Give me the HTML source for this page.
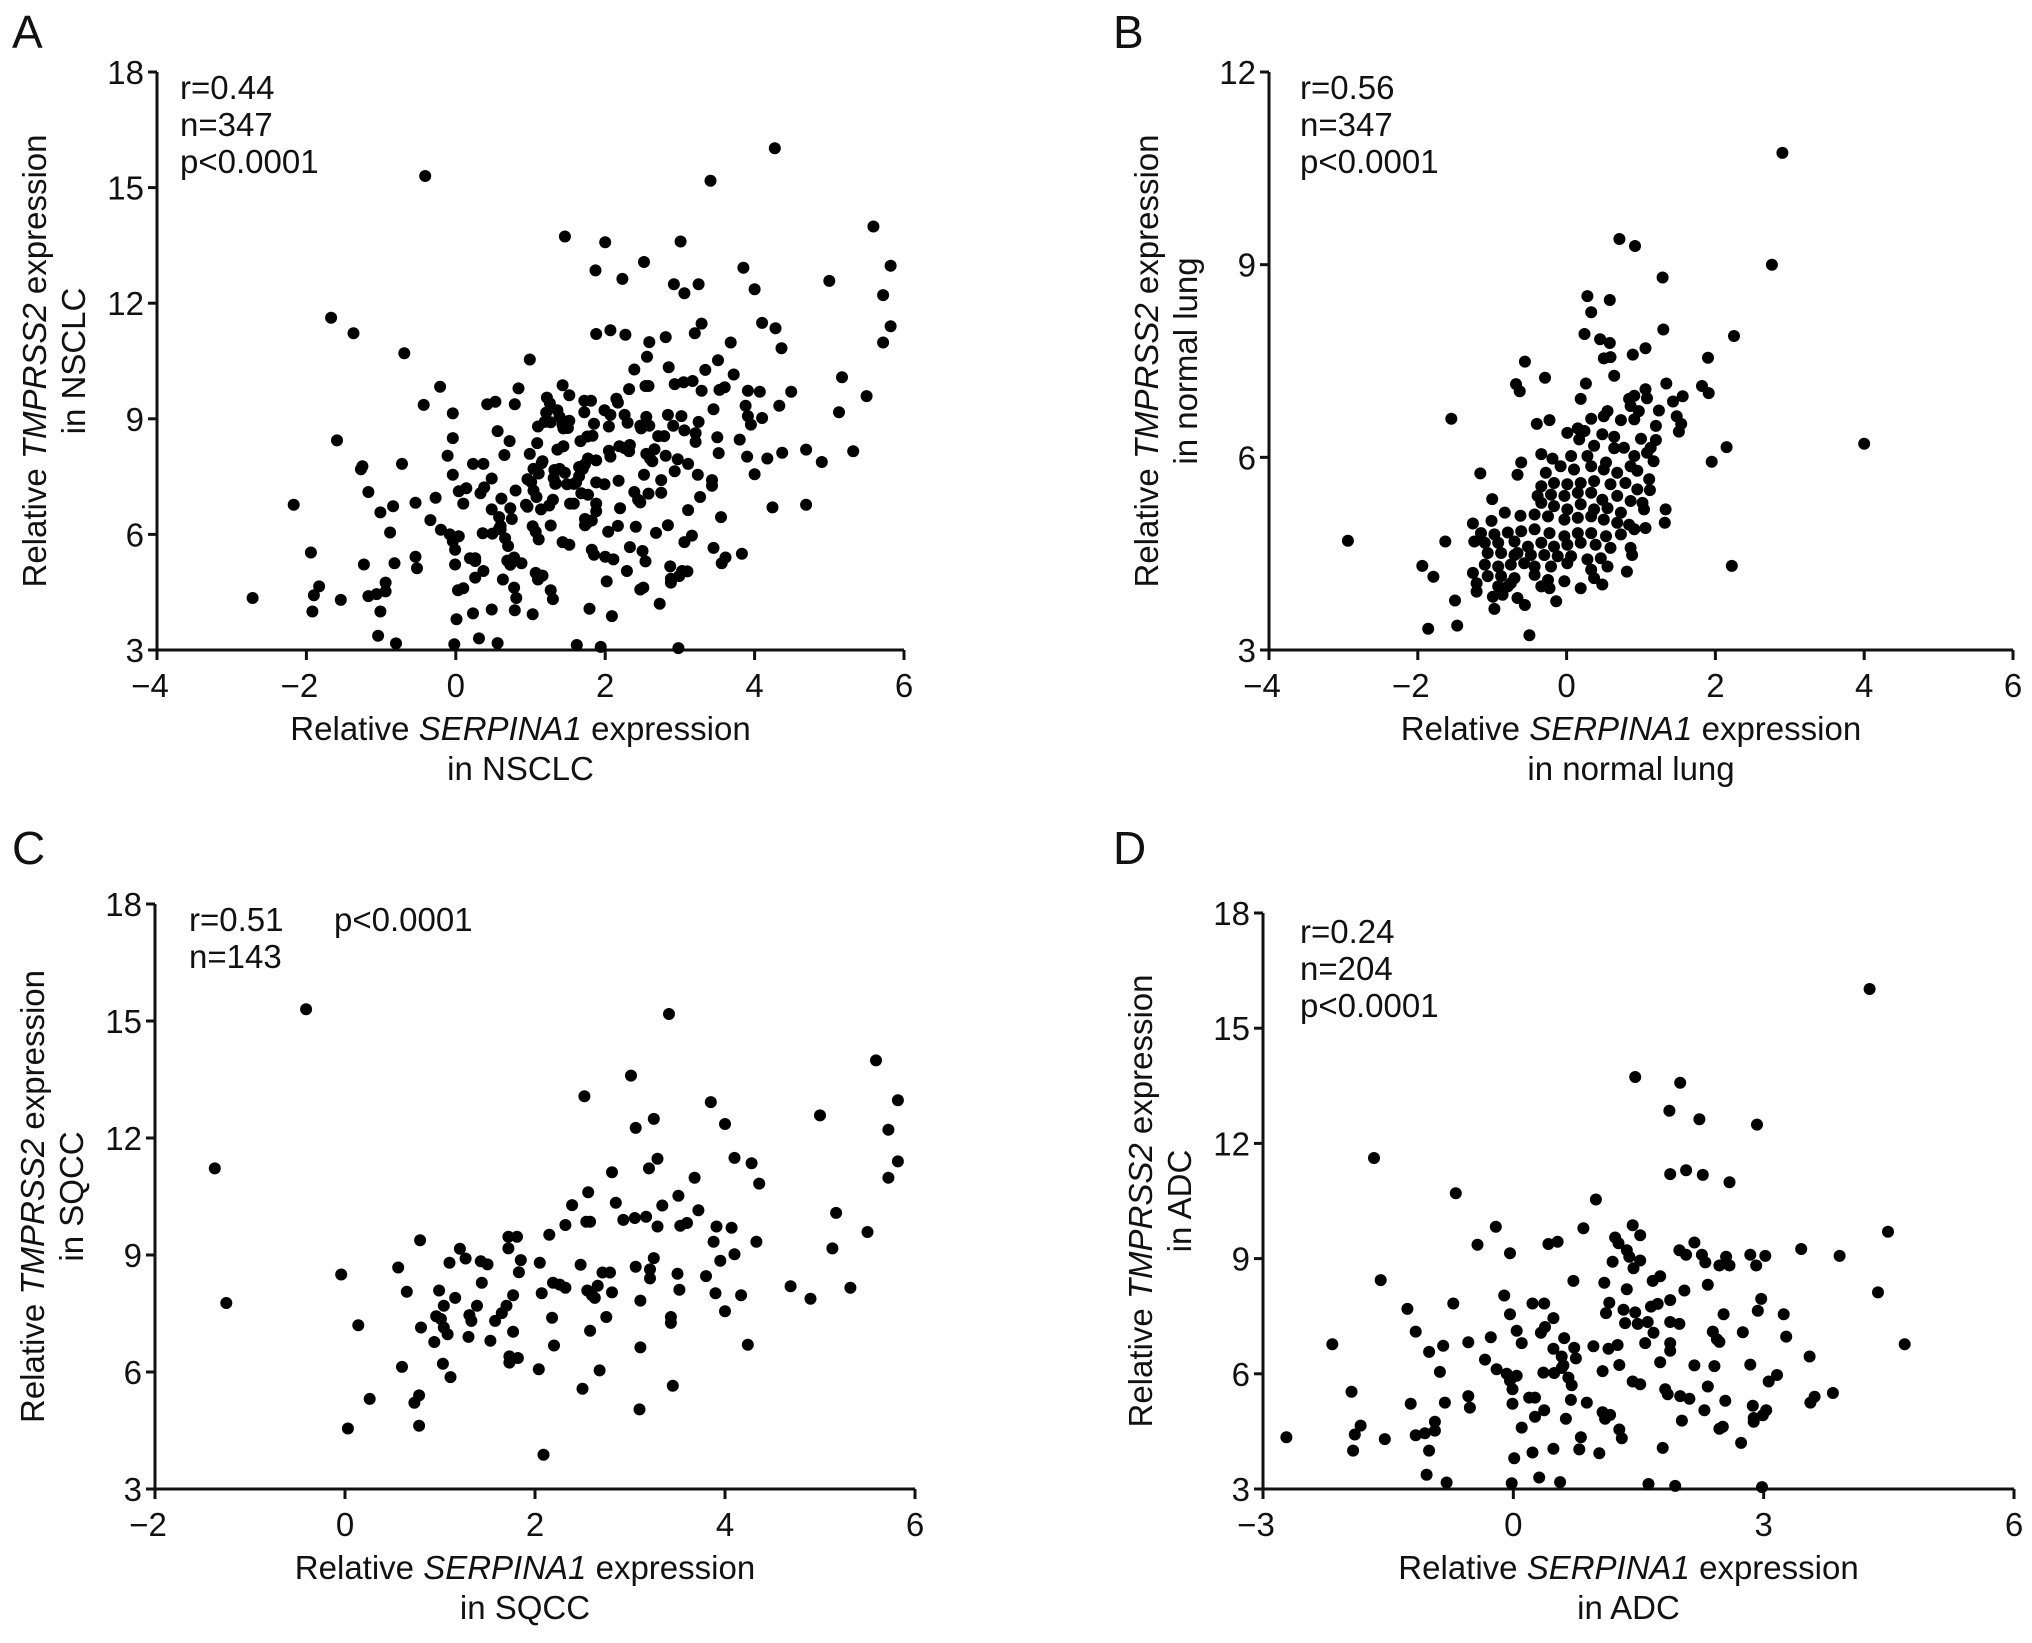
<!DOCTYPE html>
<html><head><meta charset="utf-8"><style>
html,body{margin:0;padding:0;background:#fff;}
svg{display:block;font-family:"Liberation Sans",Arial,sans-serif;}
</style></head><body>
<svg id="fig" width="2032" height="1643" viewBox="0 0 2032 1643" xmlns="http://www.w3.org/2000/svg"></svg>
<script>
// ---- data: SQCC (panel C) ----
const sqccX=[-1.37,-1.25,-0.41,3.41,5.59,3.01,2.52,3.85,5.82,3.25,5.00,3.06,4.00,5.72,3.29,3.20,4.10,4.28,5.82,5.72,4.36,2.81,3.68,2.56,2.39,2.85,3.34,3.51,3.72,5.17,2.32,2.54,2.58,2.93,3.05,3.17,3.29,3.53,3.60,3.91,4.07,5.50,2.15,0.79,1.72,1.81,1.72,3.88,4.33,5.13,1.21,1.27,1.10,1.43,1.50,1.85,2.05,2.48,3.06,3.25,3.95,4.10,0.56,-0.04,1.83,2.71,2.79,3.21,3.50,3.80,3.21,1.44,2.19,2.26,2.32,2.66,4.69,5.32,0.65,0.99,1.16,1.77,2.07,2.55,2.60,2.63,2.81,3.52,3.90,4.17,4.90,1.04,1.39,1.70,3.11,0.96,1.31,1.65,4.00,1.01,1.33,1.58,2.18,2.75,3.43,3.43,0.14,0.80,1.04,1.08,1.77,2.58,0.94,1.30,1.53,2.20,3.11,4.24,1.73,1.82,1.73,1.03,0.60,2.04,2.68,1.11,2.50,3.45,0.26,0.78,0.73,3.10,0.03,0.78,2.09];
const sqccY=[11.22,7.77,15.30,15.18,13.99,13.60,13.07,12.92,12.97,12.49,12.58,12.26,12.36,12.21,11.47,11.22,11.49,11.35,11.40,10.98,10.83,11.12,10.98,10.61,10.28,10.34,10.27,10.52,10.15,10.08,9.77,9.85,9.85,9.90,9.95,9.98,9.73,9.75,9.82,9.73,9.70,9.59,9.52,9.38,9.47,9.47,9.17,9.34,9.34,9.17,9.16,8.91,8.80,8.84,8.76,8.87,8.80,8.75,8.70,8.92,8.85,9.02,8.68,8.50,8.56,8.55,8.55,8.63,8.52,8.46,8.40,8.29,8.29,8.24,8.16,8.21,8.20,8.16,8.06,8.09,7.90,7.97,8.02,8.09,7.97,7.90,8.04,8.11,8.02,7.97,7.88,7.70,7.70,7.70,7.83,7.43,7.46,7.51,7.56,7.36,7.31,7.31,7.39,7.41,7.41,7.26,7.20,7.14,7.14,6.97,7.03,7.06,6.77,6.90,6.80,6.68,6.63,6.70,6.40,6.36,6.24,6.21,6.13,6.07,6.04,5.87,5.57,5.65,5.31,5.40,5.21,5.04,4.55,4.62,3.88];
// ---- data: ADC (panel D) ----
const adcX=[4.27,1.46,2.00,1.87,2.23,2.92,-1.67,1.88,2.07,2.27,2.59,-0.69,0.99,-0.21,0.84,1.43,1.52,4.49,-0.43,-0.04,0.42,0.53,1.22,1.26,1.36,1.39,1.19,1.52,1.44,1.99,2.07,2.17,2.26,2.30,2.47,2.55,2.59,2.84,2.91,3.02,3.45,3.91,-1.59,0.72,1.09,1.67,1.76,2.33,4.37,1.36,2.05,-0.11,-1.27,-0.72,0.23,0.37,1.15,1.88,2.97,1.65,1.73,1.32,1.11,1.46,-0.04,0.48,2.52,2.93,3.24,1.34,1.49,1.61,1.88,1.99,-1.17,0.04,0.33,0.38,1.68,2.39,2.75,3.27,-2.17,-0.54,-0.27,0.10,0.61,0.73,0.96,1.14,1.25,1.58,1.88,1.88,2.44,2.47,4.69,-1.01,-0.84,0.48,0.58,-0.34,0.75,3.55,1.76,0.60,1.27,2.17,2.41,2.84,-0.88,-0.20,-0.08,0.04,0.36,0.49,0.58,0.66,1.07,3.16,-0.04,0.70,1.43,1.52,3.06,-0.01,-1.94,1.82,1.85,2.00,2.11,2.33,3.83,-0.54,0.19,0.26,3.61,0.69,0.88,-1.23,-0.82,-0.01,2.54,3.56,-0.52,2.87,0.37,1.07,1.16,2.29,3.03,2.99,0.26,0.63,1.10,2.02,2.88,2.88,-1.83,-0.94,0.10,2.47,2.51,-1.90,-1.17,-1.06,-0.94,1.27,1.30,-2.72,-1.54,0.81,2.73,-1.92,-1.01,0.48,0.79,1.03,1.79,0.23,0.01,-1.04,0.31,-0.80,-0.02,0.56,1.62,1.94,2.98];
const adcY=[16.02,13.73,13.58,12.85,12.63,12.49,11.62,11.20,11.30,11.18,10.99,10.70,10.54,9.83,9.79,9.87,9.61,9.70,9.36,9.14,9.38,9.44,9.55,9.40,9.22,9.05,8.92,8.95,8.75,9.22,9.10,9.42,9.10,8.90,8.82,9.05,8.82,9.10,8.82,9.07,9.25,9.07,8.44,8.42,8.37,8.42,8.54,8.32,8.12,8.20,8.17,8.04,7.69,7.83,7.83,7.83,7.85,7.92,7.95,7.75,7.82,7.67,7.58,7.60,7.55,7.45,7.55,7.64,7.55,7.32,7.30,7.35,7.35,7.30,7.10,7.12,7.07,7.22,7.07,7.10,7.08,6.97,6.77,6.82,6.95,6.80,6.93,6.68,6.72,6.65,6.75,6.80,6.80,6.60,6.90,6.83,6.77,6.57,6.73,6.65,6.45,6.37,6.40,6.45,6.30,6.22,6.23,6.22,6.20,6.24,6.05,6.12,6.00,5.95,6.03,6.02,6.15,5.90,6.07,5.97,5.82,5.70,5.80,5.73,5.80,5.60,5.53,5.60,5.47,5.42,5.35,5.67,5.50,5.42,5.38,5.38,5.40,5.32,5.25,5.22,5.25,5.22,5.30,5.25,5.12,5.17,5.05,5.00,4.93,5.05,5.05,4.92,4.88,4.83,4.83,4.78,4.85,4.75,4.65,4.75,4.60,4.57,4.62,4.42,4.40,4.45,4.52,4.55,4.32,4.35,4.30,4.35,4.20,4.00,4.00,4.05,4.03,3.93,4.07,3.95,3.80,3.37,3.30,3.17,3.15,3.18,3.13,3.08,3.05];
// ---- data: normal lung (panel B) ----
const lungX=[0.71,0.92,2.76,1.29,0.28,0.58,0.33,1.30,2.25,0.24,0.45,0.58,1.06,0.89,0.50,0.59,1.90,-0.56,-0.29,0.64,-0.68,-0.63,0.26,1.34,1.82,1.91,0.19,1.56,1.43,-1.55,-0.40,-0.23,2.15,1.95,2.22,-2.94,-1.63,-1.94,-1.79,-1.50,-1.86,-1.47,-0.50,-1.16,-0.61,-0.66,-0.34,-1.00,1.33,1.32,0.81,0.19,-0.14,-0.97,-0.56,2.90,4.00,
0.84,0.91,1.06,1.08,0.86,0.97,1.24,0.55,0.33,0.50,0.73,0.91,1.20,1.48,1.54,1.51,0.01,0.15,0.24,0.48,0.64,1.00,1.20,0.17,0.37,0.64,0.77,1.13,1.17,0.91,-0.19,0.06,0.28,0.53,0.86,1.08,
-0.28,-0.08,0.10,0.33,0.50,0.68,0.95,1.11,1.12,-0.34,-0.17,0.01,0.19,0.37,0.59,0.79,0.95,-0.39,-0.21,-0.03,0.15,0.33,0.48,0.68,0.86,1.02,1.04,-0.34,-0.17,0.01,0.19,0.37,0.55,0.73,-0.83,-0.62,-1.26,-1.01,-0.43,-0.25,-0.03,0.15,0.33,0.50,0.68,0.84,1.06,0.91,
-1.15,-0.97,-0.79,-0.61,-0.43,-0.23,-0.03,0.15,0.33,0.53,0.73,-1.24,-1.10,-0.92,-0.70,-0.52,-0.34,-0.17,0.01,0.19,0.39,0.59,0.86,0.88,-1.06,-0.88,-0.70,-0.48,-0.30,-0.12,0.06,0.28,0.46,-1.10,-0.92,-0.75,-0.57,-0.21,0.01,0.55,0.33,-1.26,-1.06,-0.88,-0.70,-0.43,-0.25,-0.03,0.37,0.48,-1.21,-1.21,-0.92,-0.79,-0.34,-0.23,-0.99,-0.86,-0.66,-0.66,-0.43,-0.75];
const lungY=[9.40,9.29,9.00,8.80,8.51,8.45,8.26,7.99,7.89,7.92,7.84,7.78,7.70,7.60,7.54,7.56,7.55,7.49,7.24,7.27,7.14,7.03,7.15,7.15,7.11,7.00,6.91,6.95,6.87,6.60,6.52,6.58,6.16,5.93,4.31,4.70,4.69,4.31,4.14,3.77,3.33,3.38,3.23,5.75,5.92,5.73,6.05,5.35,5.19,4.98,4.22,3.96,3.76,3.64,3.70,10.74,6.21,
6.91,6.96,7.06,6.92,6.80,6.72,6.73,6.72,6.60,6.64,6.58,6.59,6.49,6.64,6.52,6.40,6.38,6.45,6.41,6.36,6.32,6.29,6.27,6.28,6.18,6.14,6.15,6.15,5.94,6.02,5.98,6.02,6.02,5.92,5.86,6.07,
5.76,5.86,5.81,5.86,5.81,5.76,5.79,5.66,5.49,5.55,5.60,5.58,5.60,5.63,5.58,5.60,5.50,5.40,5.42,5.40,5.45,5.45,5.34,5.40,5.32,5.29,5.19,5.29,5.24,5.19,5.27,5.19,5.21,5.14,5.14,5.09,4.97,5.01,5.11,5.08,5.03,5.06,5.08,5.03,4.98,4.95,4.90,4.88,
4.82,4.80,4.83,4.85,4.88,4.82,4.77,4.82,4.82,4.77,4.80,4.69,4.67,4.67,4.69,4.61,4.67,4.61,4.64,4.67,4.64,4.59,4.59,4.48,4.51,4.51,4.48,4.48,4.48,4.46,4.46,4.41,4.43,4.33,4.30,4.33,4.35,4.30,4.35,4.30,4.25,4.20,4.15,4.15,4.12,4.17,4.09,4.07,4.12,4.02,4.04,3.91,3.99,3.99,3.99,3.96,3.83,3.86,3.81,4.51,4.30,4.04];
// ---- tick labels ----
const ticksA_x=[-4,-2,0,2,4,6], ticksA_y=[3,6,9,12,15,18];
const ticksB_x=[-4,-2,0,2,4,6], ticksB_y=[3,6,9,12];
const ticksC_x=[-2,0,2,4,6], ticksC_y=[3,6,9,12,15,18];
const ticksD_x=[-3,0,3,6], ticksD_y=[3,6,9,12,15,18];
// NSCLC = SQCC + ADC
const nsclcX=sqccX.concat(adcX), nsclcY=sqccY.concat(adcY);

const NS="http://www.w3.org/2000/svg";
const svg=document.getElementById('fig');
const FS=33;
function el(tag,attrs,parent){const e=document.createElementNS(NS,tag);for(const k in attrs)e.setAttribute(k,attrs[k]);(parent||svg).appendChild(e);return e;}
function fmt(v){return v<0?'\u2212'+Math.abs(v):String(v);}

function panel(p){
  const g=el('g',{});
  
  
  const xmin=p.xt[0],xmax=p.xt[p.xt.length-1],ymin=p.yt[0],ymax=p.yt[p.yt.length-1];
  const sx=v=>p.L+(v-xmin)/(xmax-xmin)*(p.R-p.L);
  const sy=v=>p.B-(v-ymin)/(ymax-ymin)*(p.B-p.T);
  const lt=el('text',{x:p.lx,y:p.ly,'font-size':46,fill:'#111'},g);lt.textContent=p.letter;
  
  
  const ax=el('path',{d:`M${p.L},${p.T} V${p.B} H${p.R}`,stroke:'#111','stroke-width':3,fill:'none'},g);
  
  
  p.yt.forEach(v=>{
    const y=sy(v);
    el('line',{x1:p.L-9,x2:p.L,y1:y,y2:y,stroke:'#111','stroke-width':3},g);
    const t=el('text',{x:p.L-13,y:y+12,'font-size':FS,'text-anchor':'end',fill:'#111'},g);t.textContent=fmt(v);
    
    
  });
  p.xt.forEach(v=>{
    const x=sx(v);
    el('line',{x1:x,x2:x,y1:p.B,y2:p.B+10,stroke:'#111','stroke-width':3},g);
    const t=el('text',{x:x-(v<0?7:0),y:p.B+47,'font-size':FS,'text-anchor':'middle',fill:'#111'},g);t.textContent=fmt(v);
    
    
  });
  for(let i=0;i<p.X.length;i++){
    const c=el('circle',{cx:sx(p.X[i]).toFixed(1),cy:sy(p.Y[i]).toFixed(1),r:6,fill:'#000'},g);
    
    
  }
  p.stats.forEach((s,i)=>{
    const t=el('text',{x:s[1],y:s[2],'font-size':FS,fill:'#111'},g);t.textContent=s[0];
    
    
  });
  const cx=(p.L+p.R)/2-10;
  const xt=el('text',{x:cx,y:p.B+90,'font-size':FS,'text-anchor':'middle',fill:'#111'},g);
  xt.innerHTML='Relative <tspan font-style="italic">SERPINA1</tspan> expression';
  
  
  const xt2=el('text',{x:cx,y:p.B+130,'font-size':FS,'text-anchor':'middle',fill:'#111'},g);xt2.textContent='in '+p.sub;
  
  
  const cy=(p.T+p.B)/2;
  const yt=el('text',{x:0,y:0,'font-size':FS,'text-anchor':'middle',fill:'#111',transform:`translate(${p.L-111},${cy}) rotate(-90)`},g);
  yt.innerHTML='Relative <tspan font-style="italic">TMPRSS2</tspan> expression';
  
  
  const yt2=el('text',{x:0,y:0,'font-size':FS,'text-anchor':'middle',fill:'#111',transform:`translate(${p.L-72},${cy}) rotate(-90)`},g);yt2.textContent='in '+p.sub;
  
  
}

panel({key:'a',letter:'A',lx:12,ly:48,L:157,R:904,T:72,B:650,xt:ticksA_x,yt:ticksA_y,X:nsclcX,Y:nsclcY,sub:'NSCLC',
  stats:[['r=0.44',180,99],['n=347',180,136],['p<0.0001',180,173]]});
panel({key:'b',letter:'B',lx:1113,ly:48,L:1269,R:2013,T:72,B:650,xt:ticksB_x,yt:ticksB_y,X:lungX,Y:lungY,sub:'normal lung',
  stats:[['r=0.56',1300,99],['n=347',1300,136],['p<0.0001',1300,173]]});
panel({key:'c',letter:'C',lx:12,ly:864,L:155,R:915,T:904,B:1489,xt:ticksC_x,yt:ticksC_y,X:sqccX,Y:sqccY,sub:'SQCC',
  stats:[['r=0.51',189,931],['p<0.0001',334,931],['n=143',189,968]]});
panel({key:'d',letter:'D',lx:1113,ly:864,L:1263,R:2014,T:913,B:1489,xt:ticksD_x,yt:ticksD_y,X:adcX,Y:adcY,sub:'ADC',
  stats:[['r=0.24',1300,943],['n=204',1300,980],['p<0.0001',1300,1017]]});
</script>
</body></html>
